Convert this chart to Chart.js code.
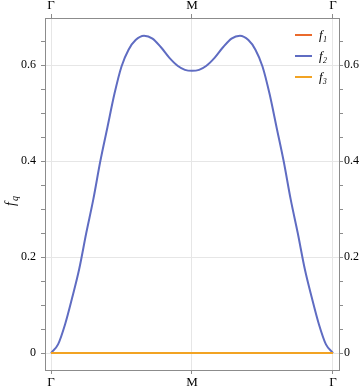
<!DOCTYPE html>
<html>
<head>
<meta charset="utf-8">
<script src="https://cdn.jsdelivr.net/npm/chart.js@4/dist/chart.umd.min.js"></script>
<style>
  html, body { margin: 0; padding: 0; background: #fff; }
  #wrap { width: 362px; height: 390px; }
</style>
</head>
<body>
<div id="wrap"><canvas id="c"></canvas></div>
<script>
// path coordinate: 0 = Γ, 1 = M, 2 = Γ
var kPath = [0, 0.05, 0.1, 0.15, 0.2, 0.25, 0.3, 0.35, 0.4, 0.45, 0.5, 0.55, 0.6, 0.66, 0.72, 0.78, 0.84, 0.9, 0.95, 1,
             1.05, 1.1, 1.16, 1.22, 1.28, 1.34, 1.4, 1.45, 1.5, 1.55, 1.6, 1.65, 1.7, 1.75, 1.8, 1.85, 1.9, 1.95, 2];
var f2Values = [0, 0.018, 0.06, 0.115, 0.175, 0.25, 0.32, 0.4, 0.47, 0.54, 0.597, 0.632, 0.652, 0.661, 0.655, 0.637, 0.615, 0.598, 0.59, 0.588,
                0.59, 0.598, 0.615, 0.637, 0.655, 0.661, 0.652, 0.632, 0.597, 0.54, 0.47, 0.4, 0.32, 0.25, 0.175, 0.115, 0.06, 0.018, 0];
var kEnds = [0, 2];
var f1Values = [0, 0];
var f3Values = [0, 0];

var seriesNames = ['f\u2081', 'f\u2082', 'f\u2083'];
var seriesColors = ['#ea6a2c', '#5f6cc2', '#f2a323'];
var xTickLabels = ['\u0393', 'M', '\u0393'];
var yMajor = [0, 0.2, 0.4, 0.6];

function pts(xs, ys){
    return xs.map(function(x, i){ return {x: x, y: ys[i]}; });
}

function isMajor(v){
    return yMajor.some(function(m){ return Math.abs(m - v) < 1e-6; });
}

var serif = "'Liberation Serif', 'DejaVu Serif', serif";
var frameColor = '#8c8c8c';
var gridColor = '#e6e6e6';

function yTicks(pad){
    return {
        stepSize: 0.05,
        includeBounds: false,
        color: '#000',
        padding: pad,
        font: {family: serif, size: 12},
        callback: function(v){ return isMajor(v) ? String(Math.round(v * 10) / 10) : ''; }
    };
}

function xTicks(){
    return {
        stepSize: 1,
        includeBounds: false,
        color: '#000',
        padding: 1,
        maxRotation: 0,
        font: {family: serif, size: 13},
        callback: function(v){ return xTickLabels[Math.round(v)]; }
    };
}

var legendPlugin = {
    id: 'insideLegend',
    afterDatasetsDraw: function(chart){
        var ctx = chart.ctx, a = chart.chartArea;
        ctx.save();
        seriesNames.forEach(function(name, i){
            var y = a.top + 17 + 21 * i;
            ctx.strokeStyle = seriesColors[i];
            ctx.lineWidth = 2;
            ctx.beginPath();
            ctx.moveTo(a.right - 44, y);
            ctx.lineTo(a.right - 27, y);
            ctx.stroke();
            ctx.fillStyle = '#000';
            ctx.font = 'italic 13px ' + serif;
            ctx.textBaseline = 'middle';
            ctx.fillText(name, a.right - 20, y + 1);
        });
        ctx.restore();
    }
};

var yTitlePlugin = {
    id: 'yTitle',
    afterDraw: function(chart){
        var ctx = chart.ctx;
        ctx.save();
        ctx.translate(15, 200);
        ctx.rotate(-Math.PI / 2);
        ctx.fillStyle = '#000';
        ctx.textBaseline = 'alphabetic';
        ctx.font = 'italic 14px ' + serif;
        var w = ctx.measureText('f').width;
        ctx.fillText('f', -6, 0);
        ctx.font = 'italic 10px ' + serif;
        ctx.fillText('q', -6 + w + 1, 3);
        ctx.restore();
    }
};

var ctx = document.getElementById('c').getContext('2d');
new Chart(ctx, {
    type: 'line',
    data: {
        datasets: [
            {label: seriesNames[0], data: pts(kEnds, f1Values), borderColor: seriesColors[0], borderWidth: 2, pointRadius: 0, order: 2},
            {label: seriesNames[1], data: pts(kPath, f2Values), borderColor: seriesColors[1], borderWidth: 2, pointRadius: 0,
             cubicInterpolationMode: 'monotone', order: 1},
            {label: seriesNames[2], data: pts(kEnds, f3Values), borderColor: seriesColors[2], borderWidth: 2, pointRadius: 0, order: 0}
        ]
    },
    options: {
        responsive: true,
        maintainAspectRatio: false,
        animation: false,
        layout: {padding: 0},
        plugins: {
            legend: {display: false},
            tooltip: {enabled: false}
        },
        scales: {
            x: {
                type: 'linear', position: 'bottom',
                min: -0.0426, max: 2.0426,
                ticks: xTicks(),
                grid: {color: gridColor, tickColor: frameColor, tickLength: 4},
                border: {color: frameColor, width: 1},
                afterFit: function(s){ s.height = 20; }
            },
            x2: {
                type: 'linear', position: 'top',
                min: -0.0426, max: 2.0426,
                ticks: xTicks(),
                grid: {drawOnChartArea: false, tickColor: frameColor, tickLength: 4},
                border: {color: frameColor, width: 1},
                afterFit: function(s){ s.height = 18; }
            },
            y: {
                type: 'linear', position: 'left',
                min: -0.0354, max: 0.698,
                ticks: yTicks(5),
                grid: {
                    color: function(c){ return c.tick && isMajor(c.tick.value) ? gridColor : 'rgba(0,0,0,0)'; },
                    tickColor: frameColor,
                    tickLength: 4
                },
                border: {color: frameColor, width: 1},
                afterFit: function(s){ s.width = 45; }
            },
            y2: {
                type: 'linear', position: 'right',
                min: -0.0354, max: 0.698,
                ticks: yTicks(1),
                grid: {drawOnChartArea: false, tickColor: frameColor, tickLength: 4},
                border: {color: frameColor, width: 1},
                afterFit: function(s){ s.width = 23; }
            }
        }
    },
    plugins: [legendPlugin, yTitlePlugin]
});
</script>
</body>
</html>
